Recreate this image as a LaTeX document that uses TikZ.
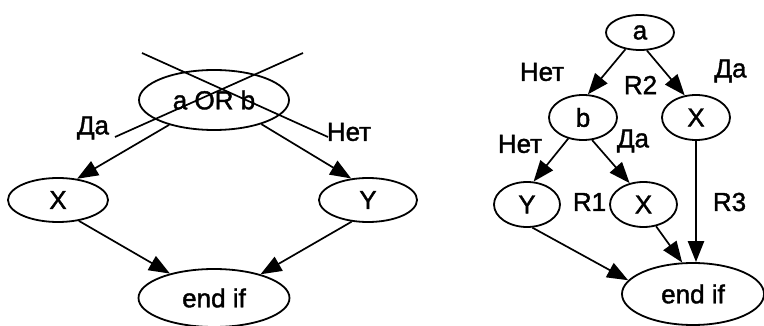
\documentclass[tikz,border=0pt]{standalone}
\usepackage{fontspec}
\setmainfont{Liberation Sans}[FakeBold=1.5]
\usetikzlibrary{shapes.geometric,arrows.meta}
\begin{document}
\begin{tikzpicture}[x=1pt,y=-1pt,
  every node/.style={font=\fontsize{26}{30}\selectfont},
  ell/.style={ellipse,draw,line width=1.8pt,inner sep=0pt},
  lbl/.style={inner sep=0pt},
  arr/.style={line width=1.7pt,-{Triangle[length=21pt,width=16pt]}},
  cross/.style={line width=1.7pt}]
\useasboundingbox (0,0) rectangle (764,326);
% left diagram
\node[ell,minimum width=150pt,minimum height=60pt] (aorb) at (214,100) {a OR b};
\node[ell,minimum width=100pt,minimum height=44pt] (X1) at (58,200) {X};
\node[ell,minimum width=98pt,minimum height=44pt] (Y1) at (368,200) {Y};
\node[ell,minimum width=151pt,minimum height=58pt] (end1) at (214,298) {end if};
\coordinate (c1a) at (142,53);
\coordinate (c1b) at (328,137);
\coordinate (c2a) at (303,53);
\coordinate (c2b) at (115,137);
\draw[cross] (c1a) -- (c1b);
\draw[cross] (c2a) -- (c2b);
\draw[arr] (aorb.209) -- (X1.48);
\draw[arr] (aorb.333) -- (Y1.128);
\draw[arr] (X1.-45) -- (end1.151);
\draw[arr] (Y1.233) -- (end1.27);
\node[lbl] (da1) at (93,128) {Да};
\node[lbl] (net1) at (349,132) {Нет};
% right diagram
\node[ell,minimum width=68pt,minimum height=35pt] (a) at (640,32.5) {a};
\node[ell,minimum width=68pt,minimum height=45pt] (b) at (583,117.5) {b};
\node[ell,minimum width=68pt,minimum height=45pt] (X2) at (696,117.5) {X};
\node[ell,minimum width=66pt,minimum height=45pt] (Y2) at (527,204.5) {Y};
\node[ell,minimum width=67pt,minimum height=45pt] (X3) at (643.5,204.5) {X};
\node[ell,minimum width=142pt,minimum height=62pt] (end2) at (693,294) {end if};
\draw[arr] (a.229) -- (b.78);
\draw[arr] (a.291) -- (X2.117);
\draw[arr] (b.235) -- (Y2.74);
\draw[arr] (b.292) -- (X3.123);
\draw[arr,line width=2.5pt] (X2.south) -- (X2.south |- end2.north);
\draw[arr] (X3.-60) -- (end2.109);
\draw[arr] (Y2.283) -- (end2.168);
\node[lbl] (net2) at (542,72) {Нет};
\node[lbl] (r2) at (640.5,85) {R2};
\node[lbl] (da2) at (730.5,71) {Да};
\node[lbl] (net3) at (520,144) {Нет};
\node[lbl] (da3) at (633,141) {Да};
\node[lbl] (r1) at (589.5,202) {R1};
\node[lbl] (r3) at (729.5,202) {R3};
\end{tikzpicture}
\end{document}
